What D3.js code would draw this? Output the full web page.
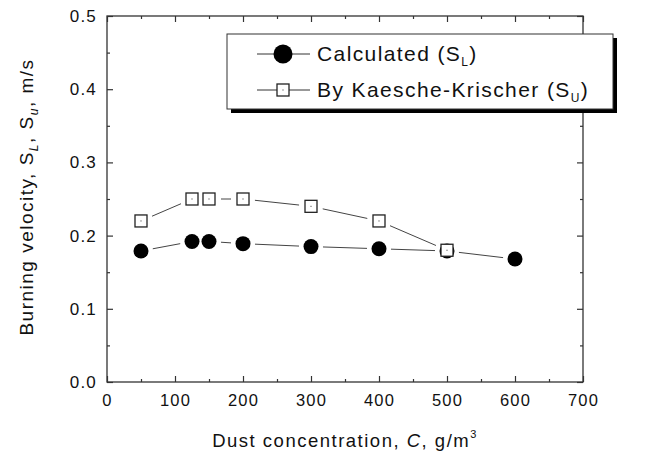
<!DOCTYPE html>
<html>
<head>
<meta charset="utf-8">
<script src="https://cdn.jsdelivr.net/npm/d3@7"></script>
<style>
  body { margin: 0; background: #fff; }
  text { font-family: "Liberation Sans", Arial, sans-serif; fill: #111; }
</style>
</head>
<body>
<div class="chart"></div>
<script>
// data
var concentration = [50, 125, 150, 200, 300, 400, 500, 600]
var calculated = [0.179, 0.192, 0.192, 0.189, 0.185, 0.182, 0.179, 0.168]
var kkConcentration = [50, 125, 150, 200, 300, 400, 500]
var kaescheKrischer = [0.22, 0.25, 0.25, 0.25, 0.24, 0.22, 0.18]
var xTicks = [0, 100, 200, 300, 400, 500, 600, 700]
var yTicks = [0.0, 0.1, 0.2, 0.3, 0.4, 0.5]

var W = 666, H = 455
var pLeft = 107, pRight = 583, pTop = 16, pBottom = 382

var svg = d3.select(".chart").append("svg")
  .attr("width", W).attr("height", H)

var x = d3.scaleLinear().domain([0, 700]).range([pLeft, pRight])
var y = d3.scaleLinear().domain([0, 0.5]).range([pBottom, pTop])

// frame
svg.append("rect")
  .attr("x", pLeft).attr("y", pTop)
  .attr("width", pRight - pLeft).attr("height", pBottom - pTop)
  .attr("fill", "none").attr("stroke", "#333").attr("stroke-width", 1.3)

function axis(gen, tx, ty, labels) {
  var g = svg.append("g").attr("transform", "translate(" + tx + "," + ty + ")")
  g.call(gen)
  g.select(".domain").remove()
  g.selectAll("line").attr("stroke", "#333").attr("stroke-width", 1.2)
  if (!labels) g.selectAll("text").remove()
  return g
}
var minorX = d3.range(50, 700, 100)
var minorY = d3.range(0.05, 0.5, 0.1)

// major ticks pointing inward
var bx = axis(d3.axisBottom(x).tickValues(xTicks).tickSize(-6).tickPadding(12).tickFormat(d3.format("d")), 0, pBottom, true)
axis(d3.axisBottom(x).tickValues(minorX).tickSize(-3), 0, pBottom, false)
axis(d3.axisTop(x).tickValues(xTicks).tickSize(-6), 0, pTop, false)
axis(d3.axisTop(x).tickValues(minorX).tickSize(-3), 0, pTop, false)
var ly = axis(d3.axisLeft(y).tickValues(yTicks).tickSize(-6).tickPadding(10).tickFormat(d3.format(".1f")), pLeft, 0, true)
axis(d3.axisLeft(y).tickValues(minorY).tickSize(-3), pLeft, 0, false)
axis(d3.axisRight(y).tickValues(yTicks).tickSize(-6), pRight, 0, false)
axis(d3.axisRight(y).tickValues(minorY).tickSize(-3), pRight, 0, false)

bx.selectAll("text").attr("font-size", 16.5).attr("letter-spacing", 1.2)
  .attr("font-family", "Liberation Sans").attr("fill", "#111")
ly.selectAll("text").attr("font-size", 17).attr("letter-spacing", 1.2)
  .attr("font-family", "Liberation Sans").attr("fill", "#111")

// connecting lines with gaps near markers
function gapLines(xs, ys, gap) {
  var pts = xs.map(function (d, i) { return [x(d), y(ys[i])] })
  var g = svg.append("g")
  for (var i = 0; i < pts.length - 1; i++) {
    var a = pts[i], b = pts[i + 1]
    var dx = b[0] - a[0], dy = b[1] - a[1], len = Math.sqrt(dx * dx + dy * dy)
    if (len <= 2 * gap) continue
    var ux = dx / len, uy = dy / len
    g.append("line")
      .attr("x1", a[0] + ux * gap).attr("y1", a[1] + uy * gap)
      .attr("x2", b[0] - ux * gap).attr("y2", b[1] - uy * gap)
      .attr("stroke", "#444").attr("stroke-width", 1)
  }
}
gapLines(concentration, calculated, 12)
gapLines(kkConcentration, kaescheKrischer, 12)

svg.append("g").selectAll("circle")
  .data(concentration).enter().append("circle")
  .attr("cx", function (d) { return x(d) })
  .attr("cy", function (d, i) { return y(calculated[i]) })
  .attr("r", 7.5).attr("fill", "#000")

var sq = svg.append("g").selectAll("g")
  .data(kkConcentration).enter().append("g")
  .attr("transform", function (d, i) { return "translate(" + x(d) + "," + y(kaescheKrischer[i]) + ")" })
sq.append("rect").attr("x", -6).attr("y", -6).attr("width", 12).attr("height", 12)
  .attr("fill", "#fff").attr("stroke", "#222").attr("stroke-width", 1.3)
sq.append("rect").attr("x", -0.5).attr("y", -0.5).attr("width", 1).attr("height", 1).attr("fill", "#333")

// legend
var lg = svg.append("g")
lg.append("rect").attr("x", 231).attr("y", 38).attr("width", 386).attr("height", 75).attr("fill", "#000")
lg.append("rect").attr("x", 227).attr("y", 34).attr("width", 386).attr("height", 75)
  .attr("fill", "#fff").attr("stroke", "#333").attr("stroke-width", 1)
lg.append("line").attr("x1", 257).attr("x2", 310).attr("y1", 54).attr("y2", 54).attr("stroke", "#333")
lg.append("circle").attr("cx", 283).attr("cy", 54).attr("r", 9.5).attr("fill", "#000")
lg.append("line").attr("x1", 257).attr("x2", 310).attr("y1", 90).attr("y2", 90).attr("stroke", "#333")
lg.append("rect").attr("x", 277).attr("y", 84).attr("width", 12).attr("height", 12)
  .attr("fill", "#fff").attr("stroke", "#222").attr("stroke-width", 1.3)
lg.append("rect").attr("x", 282.5).attr("y", 89.5).attr("width", 1).attr("height", 1).attr("fill", "#333")

var t1 = lg.append("text").attr("x", 317).attr("y", 61).attr("font-size", 21).attr("letter-spacing", 1.4)
t1.append("tspan").text("Calculated (S")
t1.append("tspan").attr("font-size", 12).attr("dy", 5).text("L")
t1.append("tspan").attr("dy", -5).text(")")
var t2 = lg.append("text").attr("x", 317).attr("y", 97).attr("font-size", 21).attr("letter-spacing", 1.4)
t2.append("tspan").text("By Kaesche-Krischer (S")
t2.append("tspan").attr("font-size", 12).attr("dy", 5).text("U")
t2.append("tspan").attr("dy", -5).text(")")

// axis titles
var xt = svg.append("text").attr("x", 345).attr("y", 447).attr("text-anchor", "middle")
  .attr("font-size", 18.5).attr("letter-spacing", 1.5)
xt.append("tspan").text("Dust concentration, ")
xt.append("tspan").attr("font-style", "italic").text("C")
xt.append("tspan").text(", g/m")
xt.append("tspan").attr("font-size", 11).attr("dy", -9).text("3")

var yt = svg.append("text").attr("transform", "translate(33,197) rotate(-90)")
  .attr("text-anchor", "middle").attr("font-size", 19).attr("letter-spacing", 1.5)
yt.append("tspan").text("Burning velocity, S")
yt.append("tspan").attr("font-size", 12).attr("font-style", "italic").attr("dy", 5).text("L")
yt.append("tspan").attr("dy", -5).text(", S")
yt.append("tspan").attr("font-size", 12).attr("font-style", "italic").attr("dy", 5).text("u")
yt.append("tspan").attr("dy", -5).text(", m/s")
</script>
</body>
</html>
